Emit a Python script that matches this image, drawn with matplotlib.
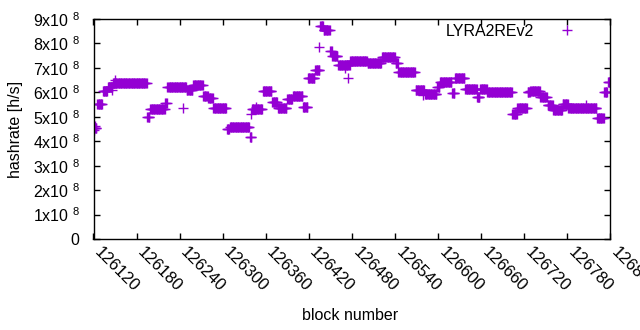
import numpy as np
import matplotlib
matplotlib.use("Agg")
import matplotlib.pyplot as plt
import matplotlib.transforms as mtransforms
from matplotlib.ticker import FixedLocator, FuncFormatter

plt.rcParams['font.family'] = ['Liberation Sans', 'DejaVu Sans']
plt.rcParams['mathtext.fontset'] = 'custom'
plt.rcParams['mathtext.rm'] = 'Liberation Sans'
plt.rcParams['mathtext.it'] = 'Liberation Sans'
plt.rcParams['mathtext.default'] = 'regular'

# Step segments: start block, end block (exclusive), hashrate (x1e8 h/s)
seg_start = [126120, 126125, 126133, 126140, 126147, 126195, 126199, 126220, 126223,
             126250, 126259, 126273, 126280, 126287, 126306, 126310, 126338, 126341,
             126356, 126369, 126377, 126390, 126398, 126412, 126419, 126429, 126436,
             126441, 126450, 126453, 126461, 126478, 126502, 126522, 126541, 126545,
             126569, 126582, 126599, 126603, 126620, 126624, 126638, 126655, 126659,
             126669, 126704, 126711, 126725, 126729, 126743, 126753, 126761, 126774,
             126782, 126822, 126832, 126837]
seg_end = seg_start[1:] + [126841]
seg_value = [4.55, 5.52, 6.05, 6.2, 6.38, 5.0, 5.32, 5.56, 6.2,
             6.1, 6.3, 5.85, 5.75, 5.35, 4.5, 4.6, 4.17, 5.3,
             6.05, 5.6, 5.35, 5.73, 5.85, 5.4, 6.58, 6.9, 8.72,
             8.55, 7.7, 7.5, 7.1, 7.3, 7.2, 7.45, 7.2, 6.82,
             6.1, 5.95, 6.2, 6.42, 5.97, 6.58, 6.13, 5.8, 6.13,
             6.0, 5.1, 5.35, 6.0, 6.05, 5.82, 5.5, 5.28, 5.52,
             5.35, 4.95, 6.0, 6.42]
# Isolated points
out_block = [126121, 126122, 126146, 126150, 126245, 126340, 126434, 126475,
             126580, 126656, 126806, 126346, 126470]
out_value = [4.45, 4.62, 6.1, 6.5, 5.35, 5.1, 7.85, 6.58,
             5.9, 5.8, 5.5, 5.4, 7.0]

blocks = []
rates = []
for s, e, v in zip(seg_start, seg_end, seg_value):
    for b in range(s, e):
        if b > 126840:
            continue
        blocks.append(b)
        rates.append(v * 1e8)
blocks += out_block
rates += [v * 1e8 for v in out_value]

x_ticks = [126120, 126180, 126240, 126300, 126360, 126420, 126480, 126540,
           126600, 126660, 126720, 126780, 126840]
y_ticks = [0, 1e8, 2e8, 3e8, 4e8, 5e8, 6e8, 7e8, 8e8, 9e8]

fig = plt.figure(figsize=(6.4, 3.3), dpi=100)
ax = fig.add_axes([93.5/640, 1-239/330, (610-93.5)/640, (239-19)/330])
ax.plot(blocks, rates, linestyle='none', marker='+', color='#9400D3',
        markersize=6.5, markeredgewidth=1.0, label='LYRA2REv2')
ax.set_xlim(126120, 126840)
ax.set_ylim(0, 9e8)
ax.xaxis.set_major_locator(FixedLocator(x_ticks))
ax.yaxis.set_major_locator(FixedLocator(y_ticks))

def yfmt(v, pos):
    if v == 0:
        return '0'
    return '%dx10 $^{8}$' % int(round(v / 1e8))

ax.yaxis.set_major_formatter(FuncFormatter(yfmt))
ax.xaxis.set_major_formatter(FuncFormatter(lambda v, p: '%d' % v))
ax.tick_params(direction='in', top=True, right=True, length=4, width=1,
               colors='black')
ax.tick_params(axis='y', pad=10, labelsize=11.5)
ax.tick_params(axis='x', pad=4, labelsize=12)
shift = mtransforms.ScaledTranslation(9/100, 0, fig.dpi_scale_trans)
for lbl in ax.get_xticklabels():
    lbl.set_rotation(-45)
    lbl.set_ha('left')
    lbl.set_va('top')
    lbl.set_rotation_mode('anchor')
    lbl.set_transform(lbl.get_transform() + shift)
for sp in ax.spines.values():
    sp.set_linewidth(1)
fig.text(350/640, 1-315/330, 'block number', fontsize=11.5, ha='center', va='center')
fig.text(16/640, 1-129/330, 'hashrate [h/s]', fontsize=11.5, ha='center', va='center',
         rotation=90)
leg = ax.legend(loc='upper right', bbox_to_anchor=(0.965, 1.035), frameon=False,
                markerfirst=False, fontsize=11.5, handlelength=1.5,
                handletextpad=1.35, borderpad=0.3)
fig.savefig('out.png', dpi=100)
